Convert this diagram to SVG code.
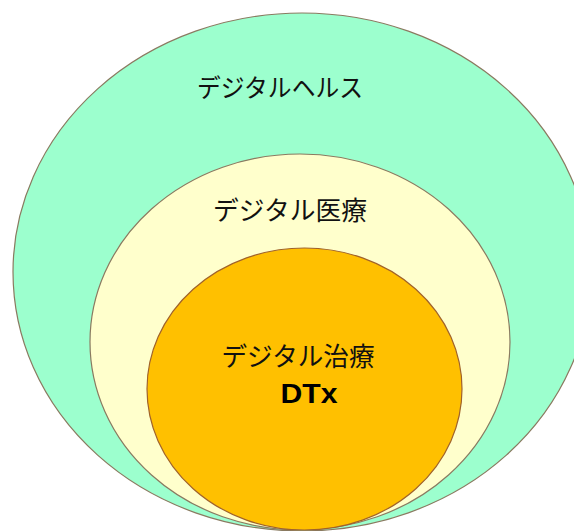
<svg xmlns="http://www.w3.org/2000/svg" width="574" height="531" viewBox="0 0 574 531">
<style>
.jp{font-family:"Noto Sans CJK JP","Noto Sans",sans-serif;fill:#111;text-anchor:middle}
.en{font-family:"Liberation Sans",Arial,sans-serif;font-weight:bold;fill:#000;text-anchor:middle}
</style>
<rect width="574" height="531" fill="#ffffff"/>
<g id="health">
<ellipse cx="302" cy="272" rx="289" ry="259" fill="#9cffce" stroke="#8a7a60" stroke-width="1.2"/>
<text class="jp" x="280" y="97" font-size="25" textLength="166" lengthAdjust="spacingAndGlyphs">デジタルヘルス</text>
</g>
<g id="medical">
<ellipse cx="300" cy="342" rx="210" ry="188" fill="#ffffcc" stroke="#8a7a60" stroke-width="1.2"/>
<text class="jp" x="290" y="220" font-size="26" textLength="154" lengthAdjust="spacingAndGlyphs">デジタル医療</text>
</g>
<g id="dtx">
<ellipse cx="304.5" cy="389" rx="157.5" ry="141" fill="#ffc000" stroke="#a0622a" stroke-width="1.2"/>
<text class="jp" x="298" y="366" font-size="26" textLength="153" lengthAdjust="spacingAndGlyphs">デジタル治療</text>
<text class="en" x="309" y="403" font-size="28" textLength="57" lengthAdjust="spacingAndGlyphs">DTx</text>
</g>
<g id="connectors"></g>
</svg>
